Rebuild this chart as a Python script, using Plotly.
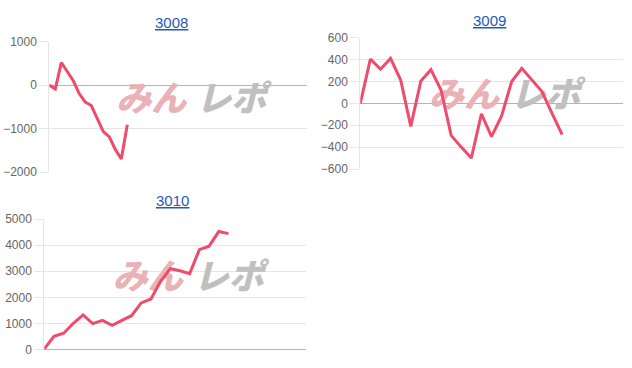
import plotly.graph_objects as go

W, H = 632, 368

titles = ["3008", "3009", "3010"]
s3008 = [0, -90, 520, 320, 100, -200, -390, -470, -780, -1070, -1190, -1480, -1700, -910]
s3009 = [0, 405, 312, 411, 213, -210, 204, 308, 122, -293, -400, -500, -95, -305, -115, 200, 320, 213, 107, -91, -286]
s3010 = [30, 510, 630, 1010, 1330, 1000, 1120, 930, 1120, 1300, 1790, 1940, 2620, 3100, 3020, 2910, 3830, 3960, 4520, 4440]
series = [s3008, s3009, s3010]
x_slots = [43, 26, 27]          # number of x intervals on each chart's category axis
y_ranges = [(-2000, 1000), (-600, 600), (0, 5000)]
y_dticks = [1000, 200, 1000]

# plot areas in pixels: (left, right, top, bottom)
boxes = [(49.3, 307.3, 41.7, 172.0), (360.3, 622.7, 37.7, 169.0), (44.3, 306.0, 219.0, 349.7)]
title_pos = [(171, 22), (489, 20), (172, 200)]

LINE = "#ef4b6c"
GRID = "#e6e6e6"
fig = go.Figure()
annotations = []

for i in range(3):
    l, r, t, b = boxes[i]
    xa = "xaxis" if i == 0 else f"xaxis{i+1}"
    ya = "yaxis" if i == 0 else f"yaxis{i+1}"
    xr = "x" if i == 0 else f"x{i+1}"
    yr = "y" if i == 0 else f"y{i+1}"
    y0, y1 = y_ranges[i]
    n = x_slots[i]
    # watermark (below the line)
    for txt, fx, col in [("みん", 0.395, "rgb(234,178,183)"), ("レポ", 0.705, "rgb(192,192,192)")]:
        fig.add_trace(go.Scatter(
            x=[fx * n], y=[y0 + 0.535 * (y1 - y0)], mode="text", text=[txt],
            textfont=dict(family="Noto Sans CJK JP", size=35, color=col, weight=900, style="italic"),
            xaxis=xr, yaxis=yr, hoverinfo="skip", showlegend=False))
    vals = series[i]
    fig.add_trace(go.Scatter(
        x=list(range(len(vals))), y=vals, mode="lines",
        line=dict(color=LINE, width=3), xaxis=xr, yaxis=yr, showlegend=False))
    fig.layout[xa] = dict(domain=[l / W, r / W], range=[0, n], showgrid=False, zeroline=False,
                          showticklabels=False, showline=False, ticks="", anchor=yr,
                          fixedrange=True, automargin=False)
    fig.layout[ya] = dict(domain=[1 - b / H, 1 - t / H], range=[y0, y1], dtick=y_dticks[i],
                          tick0=0, showgrid=True, gridcolor=GRID, gridwidth=1,
                          zeroline=True, zerolinecolor="#b5b5b5", zerolinewidth=1,
                          showline=True, linecolor=GRID, linewidth=1,
                          ticks="outside", ticklen=9, tickcolor=GRID,
                          tickfont=dict(family="Liberation Sans, Arial, sans-serif", size=12, color="#666"),
                          anchor=xr, fixedrange=True, automargin=False)
    tx, ty = title_pos[i]
    annotations.append(dict(text=f"<u>{titles[i]}</u>", x=tx / W, y=1 - ty / H, xref="paper", yref="paper",
                            showarrow=False, xanchor="center", yanchor="middle",
                            font=dict(family="Liberation Sans, Arial, sans-serif", size=15, color="#1d5bb9")))

fig.update_layout(width=W, height=H, margin=dict(l=0, r=0, t=0, b=0, autoexpand=False),
                  paper_bgcolor="white", plot_bgcolor="white", annotations=annotations,
                  showlegend=False)
fig.write_html("out.html")
